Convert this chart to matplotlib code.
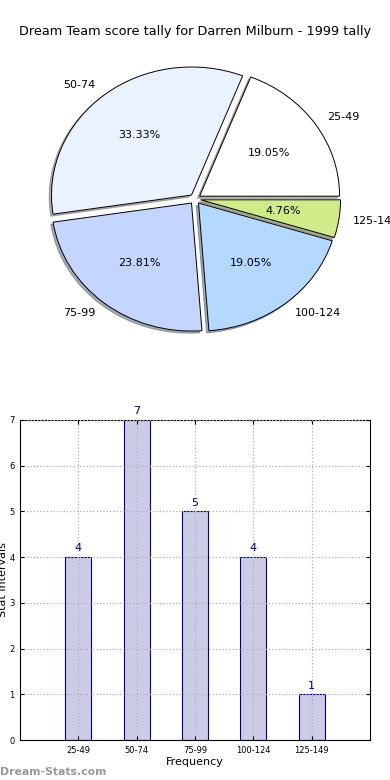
import matplotlib
matplotlib.use("Agg")
import matplotlib.pyplot as plt

title = "Dream Team score tally for Darren Milburn - 1999 tally"
categories = ["25-49", "50-74", "75-99", "100-124", "125-149"]
counts = [4, 7, 5, 4, 1]
pie_colors = ["#FFFFFF", "#EAF1FF", "#C4D6FF", "#B4D8FF", "#CFEB8A"]
y_ticks = [0, 1, 2, 3, 4, 5, 6, 7]

fig = plt.figure(figsize=(3.9, 7.8), dpi=100)
fig.subplots_adjust(left=20/390, right=370/390, bottom=40/780, top=(780-39)/780, hspace=0.19)

ax1 = fig.add_subplot(2, 1, 1)
wedges, texts, autotexts = ax1.pie(
    counts, labels=categories, colors=pie_colors, explode=[0.04]*5,
    autopct="%1.2f%%", shadow={"ox": -0.012, "oy": -0.012, "shade": 0.6},
    startangle=0, counterclock=True,
    wedgeprops=dict(edgecolor="black", linewidth=0.7),
    textprops=dict(fontsize=8), labeldistance=1.1, pctdistance=0.6)
ax1.set_aspect("auto")
ax1.set_xlim(-1.25, 1.25)
ax1.set_ylim(-1.25, 1.25)
for t in texts:
    t.set_clip_on(False)
ax1.set_title(title, fontsize=9.3, pad=3)

ax2 = fig.add_subplot(2, 1, 2)
x = list(range(len(categories)))
ax2.bar(x, counts, width=0.45, color="#CCCCE6", edgecolor="#00008B", linewidth=0.8, zorder=2)
for xi, v in zip(x, counts):
    ax2.text(xi, v + 0.08, str(v), ha="center", va="bottom", fontsize=8, color="#00008B", clip_on=False)
ax2.set_xlim(-1, 5)
ax2.set_ylim(0, 7)
ax2.set_xticks(x)
ax2.set_xticklabels(categories)
ax2.set_yticks(y_ticks)
ax2.tick_params(direction="in", labelsize=6, length=3, top=True, right=True, pad=4)
ax2.grid(True, linestyle=":", color="#B0B0B0", linewidth=0.9, zorder=3)
ax2.set_axisbelow(False)
ax2.set_xlabel("Frequency", fontsize=8, labelpad=2)
ax2.set_ylabel("Stat Intervals", fontsize=8, labelpad=1)

fig.text(0.0, 0.004, "Dream-Stats.com", fontsize=7.8, fontweight="bold", color="#999999", ha="left", va="bottom")

fig.savefig("out.png", dpi=100)
